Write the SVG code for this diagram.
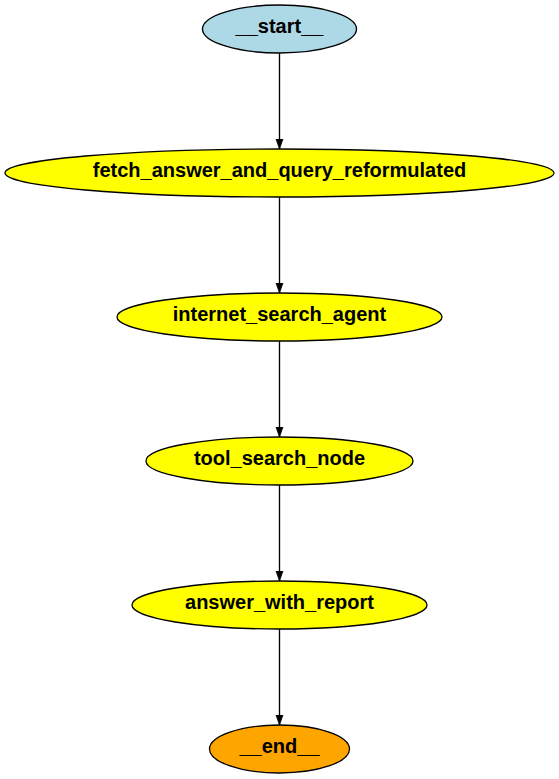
<svg xmlns="http://www.w3.org/2000/svg" width="559" height="779" viewBox="0 0 559 779">
<defs>
<marker id="arr" markerWidth="10" markerHeight="14" refX="13.3" refY="4.67" markerUnits="userSpaceOnUse" orient="auto" viewBox="0 0 13.3 9.33">
<path d="M0,0 L13.3,4.67 L0,9.33 Z" fill="#000" stroke="#000" stroke-width="1"/>
</marker>
</defs>
<style>
.n ellipse{stroke:#000;stroke-width:1.33}
.n text{font-family:"Liberation Sans",Arial,sans-serif;font-weight:bold;font-size:20px;text-anchor:middle;fill:#000}
.e line{stroke:#000;stroke-width:1.33;marker-end:url(#arr)}
</style>
<rect width="559" height="779" fill="#fff"/>
<g id="edges" class="e">
<line x1="279.5" y1="53" x2="279.5" y2="149"/>
<line x1="279.5" y1="197" x2="279.5" y2="293"/>
<line x1="279.5" y1="341" x2="279.5" y2="437"/>
<line x1="279.5" y1="485" x2="279.5" y2="581"/>
<line x1="279.5" y1="629" x2="279.5" y2="725"/>
</g>
<g id="start" class="n"><ellipse cx="279.5" cy="29" rx="77" ry="24" fill="#add8e6"/><text x="279.5" y="33">__start__</text></g>
<g id="fetch_answer_and_query_reformulated" class="n"><ellipse cx="279.5" cy="173" rx="274.5" ry="24" fill="#ffff00"/><text x="279.5" y="177">fetch_answer_and_query_reformulated</text></g>
<g id="internet_search_agent" class="n"><ellipse cx="279.5" cy="317" rx="162.5" ry="24" fill="#ffff00"/><text x="279.5" y="321">internet_search_agent</text></g>
<g id="tool_search_node" class="n"><ellipse cx="279.5" cy="461" rx="133.5" ry="24" fill="#ffff00"/><text x="279.5" y="465">tool_search_node</text></g>
<g id="answer_with_report" class="n"><ellipse cx="279.5" cy="605" rx="147.5" ry="24" fill="#ffff00"/><text x="279.5" y="609">answer_with_report</text></g>
<g id="end" class="n"><ellipse cx="279.5" cy="749" rx="70" ry="24" fill="#ffa500"/><text x="279.5" y="753">__end__</text></g>
</svg>
